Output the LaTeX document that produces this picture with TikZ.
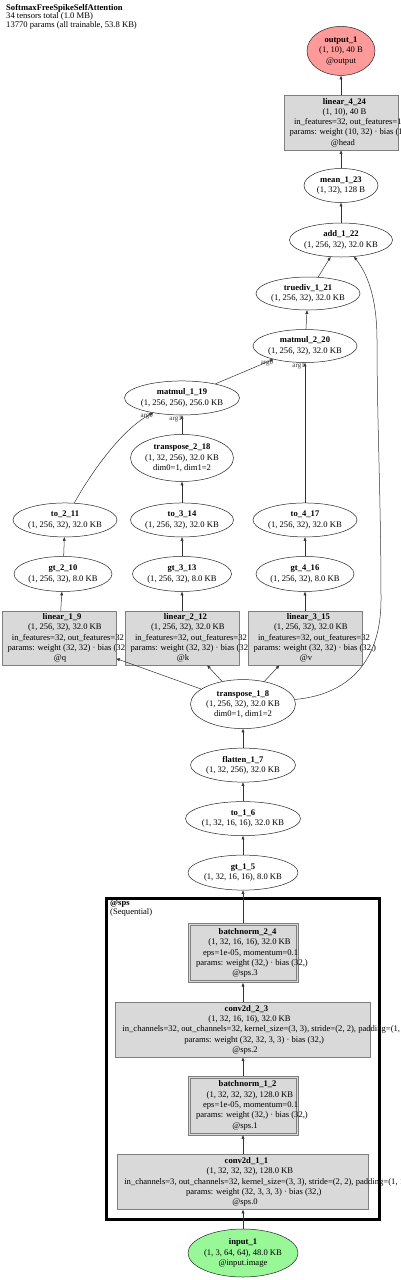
\documentclass[tikz,border=0pt]{standalone}
\usepackage{fontspec}
\setmainfont{Liberation Serif}
\usepackage{tikz}
\usetikzlibrary{arrows.meta, positioning, shapes.geometric}
\definecolor{gvgray}{HTML}{D9D9D9}
\definecolor{gvframe}{HTML}{7F7F7F}
\definecolor{gvred}{HTML}{FF9A9A}
\definecolor{gvgreen}{HTML}{98F898}
\newcommand\gvfont{\fontsize{8.6}{10.3}\selectfont}
\newcommand\gvrow[1]{\setbox0=\hbox{#1}\hbox{\kern0.16\wd0\box0}}
\tikzset{
  gvnode/.style={ellipse, draw=black!85, line width=0.5pt, inner xsep=-12pt, inner ysep=0pt, align=center, font=\gvfont},
  gvbox/.style={rectangle, draw=gvframe, fill=gvgray, line width=0.6pt, inner sep=0pt},
  gvdouble/.style={gvbox, path picture={
      \draw[gvframe, line width=0.6pt]
        ([shift={(2pt,-2pt)}]path picture bounding box.north west) rectangle
        ([shift={(-2pt,2pt)}]path picture bounding box.south east);}},
  gvtext/.style={align=center, font=\gvfont, inner sep=0pt},
  gvout/.style={gvnode, fill=gvred},
  gvin/.style={gvnode, fill=gvgreen},
  gvarrow/.style={-{Triangle[length=3.6pt, width=2.8pt]}, line width=0.5pt, black!80},
  gvarg/.style={font=\fontsize{7}{7}\selectfont, inner sep=0pt, anchor=north east},
  gvcluster/.style={draw=black, line width=3pt},
  gvtitle/.style={align=left, font=\fontsize{8.6}{7.6}\selectfont, inner sep=0pt},
}

\begin{document}
\begin{tikzpicture}[x=1pt, y=-1pt, node distance=19pt]
  \path[use as bounding box, fill=white] (0,0) rectangle (400,1280);
  \node[gvtitle, anchor=north west] (title) at (6,3.8) {\textbf{SoftmaxFreeSpikeSelfAttention}\\34 tensors total (1.0 MB)\\13770 params (all trainable, 53.8 KB)};

  \draw[gvcluster] (106.5,898.5) rectangle (379.5,1219);
  \node[gvtitle, anchor=north west] (spslbl) at (110,900) {\textbf{@sps}\\(Sequential)};

  \node[gvin, minimum width=110pt, minimum height=48pt] (in1) at (243,1253) {\textbf{input\_1}\\(1, 3, 64, 64), 48.0 KB\\@input.image};
  \node[gvbox, minimum width=251pt, minimum height=55pt, above=of in1, label={[gvtext]center:{\gvrow{\textbf{conv2d\_1\_1}}\\\gvrow{(1, 32, 32, 32), 128.0 KB}\\\gvrow{in\_channels=3, out\_channels=32, kernel\_size=(3, 3), stride=(2, 2), padding=(1, 1)}\\\gvrow{params: weight (32, 3, 3, 3) · bias (32,)}\\\gvrow{@sps.0}}}] (cv1) {};
  \node[gvdouble, minimum width=110pt, minimum height=59pt, above=of cv1, label={[gvtext]center:{\gvrow{\textbf{batchnorm\_1\_2}}\\\gvrow{(1, 32, 32, 32), 128.0 KB}\\\gvrow{eps=1e-05, momentum=0.1}\\\gvrow{params: weight (32,) · bias (32,)}\\\gvrow{@sps.1}}}] (bn1) {};
  \node[gvbox, minimum width=255pt, minimum height=55pt, above=18pt of bn1, label={[gvtext]center:{\gvrow{\textbf{conv2d\_2\_3}}\\\gvrow{(1, 32, 16, 16), 32.0 KB}\\\gvrow{in\_channels=32, out\_channels=32, kernel\_size=(3, 3), stride=(2, 2), padding=(1, 1)}\\\gvrow{params: weight (32, 32, 3, 3) · bias (32,)}\\\gvrow{@sps.2}}}] (cv2) {};
  \node[gvdouble, minimum width=110pt, minimum height=59pt, above=of cv2, label={[gvtext]center:{\gvrow{\textbf{batchnorm\_2\_4}}\\\gvrow{(1, 32, 16, 16), 32.0 KB}\\\gvrow{eps=1e-05, momentum=0.1}\\\gvrow{params: weight (32,) · bias (32,)}\\\gvrow{@sps.3}}}] (bn2) {};
  \node[gvnode, minimum width=110pt, minimum height=35pt, above=33pt of bn2] (gt1) {\textbf{gt\_1\_5}\\(1, 32, 16, 16), 8.0 KB};
  \node[gvnode, minimum width=115pt, minimum height=34pt, above=of gt1] (to1) {\textbf{to\_1\_6}\\(1, 32, 16, 16), 32.0 KB};
  \node[gvnode, minimum width=105pt, minimum height=34pt, above=of to1] (fl1) {\textbf{flatten\_1\_7}\\(1, 32, 256), 32.0 KB};
  \node[gvnode, minimum width=105pt, minimum height=49pt, above=of fl1] (tr1) {\textbf{transpose\_1\_8}\\(1, 256, 32), 32.0 KB\\dim0=1, dim1=2};

  \node[gvbox, minimum width=114pt, minimum height=54pt, label={[gvtext]center:{\gvrow{\textbf{linear\_1\_9}}\\\gvrow{(1, 256, 32), 32.0 KB}\\\gvrow{in\_features=32, out\_features=32}\\\gvrow{params: weight (32, 32) · bias (32,)}\\\gvrow{@q}}}] (lin1) at (59,638) {};
  \node[gvbox, minimum width=114pt, minimum height=54pt, label={[gvtext]center:{\gvrow{\textbf{linear\_2\_12}}\\\gvrow{(1, 256, 32), 32.0 KB}\\\gvrow{in\_features=32, out\_features=32}\\\gvrow{params: weight (32, 32) · bias (32,)}\\\gvrow{@k}}}] (lin2) at (182,638) {};
  \node[gvbox, minimum width=114pt, minimum height=54pt, label={[gvtext]center:{\gvrow{\textbf{linear\_3\_15}}\\\gvrow{(1, 256, 32), 32.0 KB}\\\gvrow{in\_features=32, out\_features=32}\\\gvrow{params: weight (32, 32) · bias (32,)}\\\gvrow{@v}}}] (lin3) at (305,638) {};

  \node[gvnode, minimum width=98pt, minimum height=35pt, above=of lin1, xshift=4pt] (gt2) {\textbf{gt\_2\_10}\\(1, 256, 32), 8.0 KB};
  \node[gvnode, minimum width=104pt, minimum height=34pt, above=of gt2, xshift=2pt] (to2) {\textbf{to\_2\_11}\\(1, 256, 32), 32.0 KB};
  \node[gvnode, minimum width=99pt, minimum height=35pt, above=of lin2] (gt3) {\textbf{gt\_3\_13}\\(1, 256, 32), 8.0 KB};
  \node[gvnode, minimum width=103pt, minimum height=34pt, above=of gt3] (to3) {\textbf{to\_3\_14}\\(1, 256, 32), 32.0 KB};
  \node[gvnode, minimum width=103pt, minimum height=47pt, above=21pt of to3] (tp2) {\textbf{transpose\_2\_18}\\(1, 32, 256), 32.0 KB\\dim0=1, dim1=2};
  \node[gvnode, minimum width=115pt, minimum height=34pt, above=of tp2] (mm1) {\textbf{matmul\_1\_19}\\(1, 256, 256), 256.0 KB};
  \node[gvnode, minimum width=98pt, minimum height=35pt, above=of lin3] (gt4) {\textbf{gt\_4\_16}\\(1, 256, 32), 8.0 KB};
  \node[gvnode, minimum width=104pt, minimum height=34pt, above=of gt4] (to4) {\textbf{to\_4\_17}\\(1, 256, 32), 32.0 KB};

  \node[gvnode, minimum width=104pt, minimum height=33pt] (mm2) at (305,346) {\textbf{matmul\_2\_20}\\(1, 256, 32), 32.0 KB};
  \node[gvnode, minimum width=104pt, minimum height=33pt] (td1) at (308,293.5) {\textbf{truediv\_1\_21}\\(1, 256, 32), 32.0 KB};
  \node[gvnode, minimum width=103pt, minimum height=34pt] (add1) at (341,240) {\textbf{add\_1\_22}\\(1, 256, 32), 32.0 KB};
  \node[gvnode, minimum width=74pt, minimum height=34pt, above=20pt of add1] (mean1) {\textbf{mean\_1\_23}\\(1, 32), 128 B};
  \node[gvbox, minimum width=114pt, minimum height=55pt, above=18pt of mean1, label={[gvtext]center:{\gvrow{\textbf{linear\_4\_24}}\\\gvrow{(1, 10), 40 B}\\\gvrow{in\_features=32, out\_features=10}\\\gvrow{params: weight (10, 32) · bias (10,)}\\\gvrow{@head}}}] (lin4) {};
  \node[gvout, minimum width=68pt, minimum height=49pt, above=of lin4] (out1) {\textbf{output\_1}\\(1, 10), 40 B\\@output};

  \draw[gvarrow] (in1) -- (cv1);
  \draw[gvarrow] (cv1) -- (bn1);
  \draw[gvarrow] (bn1) -- (cv2);
  \draw[gvarrow] (cv2) -- (bn2);
  \draw[gvarrow] (bn2) -- (gt1);
  \draw[gvarrow] (gt1) -- (to1);
  \draw[gvarrow] (to1) -- (fl1);
  \draw[gvarrow] (fl1) -- (tr1);
  \draw[gvarrow] (tr1) -- (lin1);
  \draw[gvarrow] (tr1) -- (lin2);
  \draw[gvarrow] (tr1) -- (lin3);
  \draw[gvarrow] (lin1) -- (gt2);
  \draw[gvarrow] (gt2) -- (to2);
  \draw[gvarrow] (lin2) -- (gt3);
  \draw[gvarrow] (gt3) -- (to3);
  \draw[gvarrow] (to3) -- (tp2);
  \draw[gvarrow] (lin3) -- (gt4);
  \draw[gvarrow] (gt4) -- (to4);
  \draw[gvarrow] (to2) .. controls (88,478) and (120,430) .. node[gvarg, pos=1] {arg0} (mm1);
  \draw[gvarrow] (tp2) -- node[gvarg, pos=1] {arg1} (mm1);
  \draw[gvarrow] (mm1) -- node[gvarg, pos=1] {arg0} (mm2);
  \draw[gvarrow] (to4) -- node[gvarg, pos=1] {arg1} (mm2);
  \draw[gvarrow] (mm2) -- (td1);
  \draw[gvarrow] (td1) -- (add1);
  \draw[gvarrow] (tr1) .. controls (345,695) and (381,665) .. (381,600) .. controls (381,500) and (377,420) .. (377,340) .. controls (377,295) and (366,272) .. (add1);
  \draw[gvarrow] (add1) -- (mean1);
  \draw[gvarrow] (mean1) -- (lin4);
  \draw[gvarrow] (lin4) -- (out1);
\end{tikzpicture}
\end{document}
